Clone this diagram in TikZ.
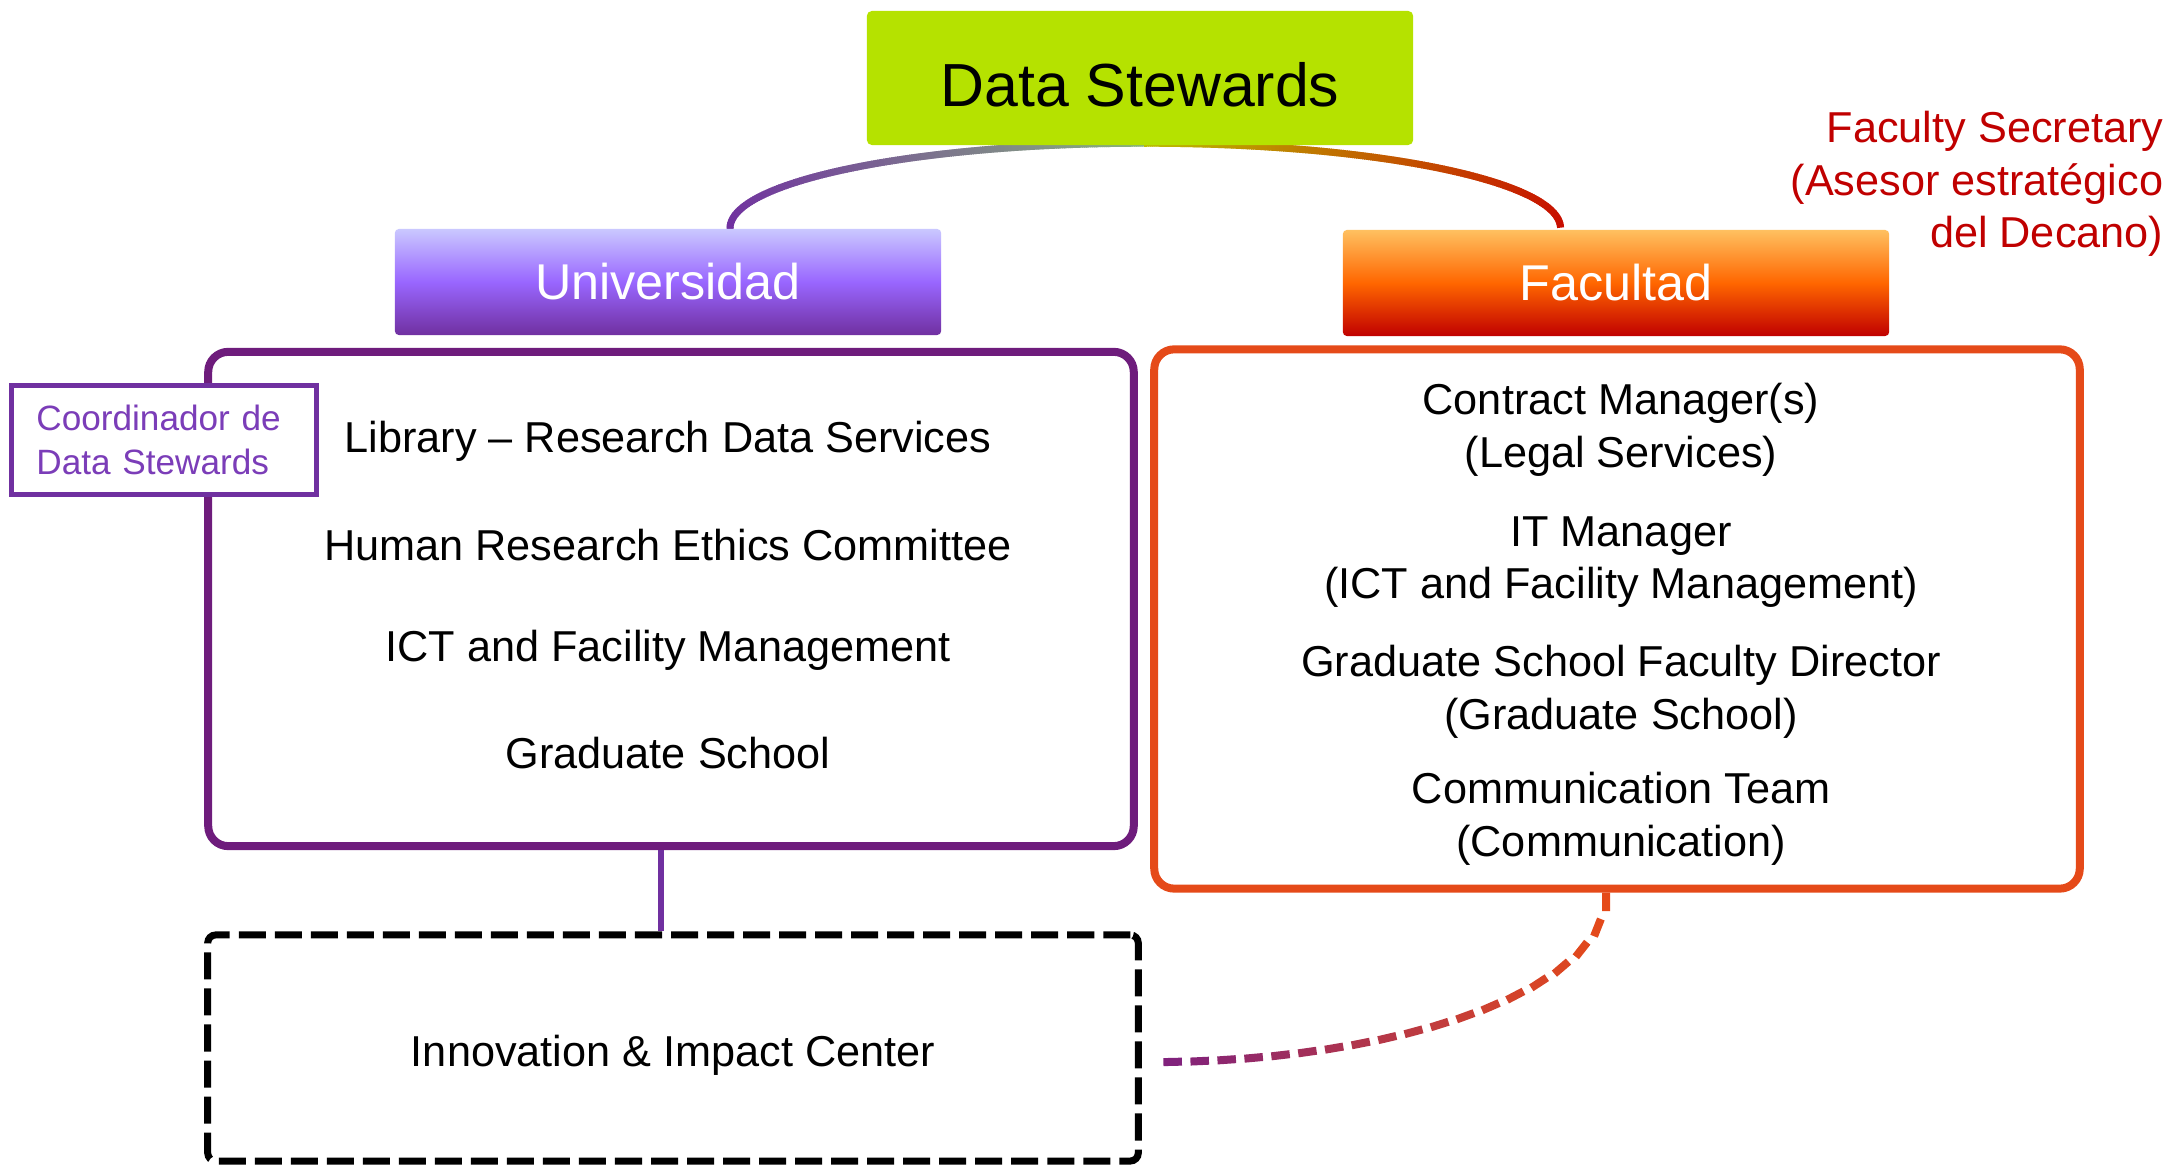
\documentclass[tikz,border=0pt]{standalone}
\usepackage{fontspec}
\setmainfont{Liberation Sans}
\usetikzlibrary{backgrounds,decorations.markings,calc}

\definecolor{dslime}{RGB}{181,226,0}
\definecolor{unitop}{RGB}{202,200,255}
\definecolor{unimid}{RGB}{153,102,255}
\definecolor{unibot}{RGB}{112,48,160}
\definecolor{factop}{RGB}{255,192,96}
\definecolor{facmid}{RGB}{255,102,0}
\definecolor{facbot}{RGB}{192,0,0}
\definecolor{univline}{RGB}{110,28,124}
\definecolor{facline}{RGB}{229,74,25}
\definecolor{coordline}{RGB}{112,48,160}
\definecolor{coordtext}{RGB}{123,61,184}
\definecolor{secred}{RGB}{192,0,0}
\definecolor{arcpurple}{RGB}{112,48,160}
\definecolor{arcgreen}{RGB}{136,180,124}
\definecolor{arcolive}{RGB}{186,188,0}
\definecolor{arcred}{RGB}{200,12,0}
\definecolor{dashpurple}{RGB}{122,31,130}

\newcommand{\txtsize}{\fontsize{12.3}{14.9}\selectfont}

\begin{document}
\begin{tikzpicture}
      [x=0.01cm, y=-0.01cm,
       headbox/.style={minimum width=5.46cm, minimum height=1.06cm, rounded corners=0.04cm,
         text=white, font=\fontsize{14.3}{17}\selectfont},
       groupbox/.style={draw, line width=0.08cm, rounded corners=0.2cm, minimum width=9.25cm},
       itemtext/.style={align=center, font=\txtsize},
       arcfade/.style args={#1 to #2}{decoration={markings,
         mark=between positions 0 and 1 step 0.02cm with {%
           \pgfmathtruncatemacro\pc{100*(\pgfkeysvalueof{/pgf/decoration/mark info/distance from start}/\pgfdecoratedpathlength)}%
           \draw[#2!\pc!#1, line width=0.07cm] (-0.015cm,0) -- (0.015cm,0);}}, decorate},
       dashfade/.style args={#1 to #2}{decoration={markings,
         mark=between positions 0 and 1 step 0.27cm with {%
           \pgfmathtruncatemacro\pc{100*(\pgfkeysvalueof{/pgf/decoration/mark info/distance from start}/\pgfdecoratedpathlength)^1.3}%
           \draw[#2!\pc!#1, line width=0.08cm] (0,0) -- (0.185cm,0);}}, decorate}]
      \useasboundingbox (0,0) rectangle (2169,1168);

      % top of the tree
      \node[fill=dslime, rounded corners=0.05cm, minimum width=5.46cm, minimum height=1.34cm,
        label={[yshift=-0.07cm, font=\fontsize{17.3}{20}\selectfont]center:Data Stewards}](ds) at (1140, 78) {};
      \node[headbox, top color=unitop, bottom color=unibot, middle color=unimid](uni) at (668, 282) {Universidad};
      \node[headbox, top color=factop, bottom color=facbot, middle color=facmid](fac) at (1616, 283) {Facultad};
      \node[align=right, text=secred, font=\txtsize, anchor=east, inner sep=0pt](sec) at (2164, 184)
        {Faculty Secretary\\(Asesor estratégico\\del Decano)};

      % university side
      \node[groupbox, draw=univline, minimum height=4.94cm](univbox) at (671, 599) {};
      \node[draw=coordline, line width=0.05cm, fill=white, minimum width=3.05cm, minimum height=1.09cm,
        text width=2.55cm, align=left, text=coordtext, font=\fontsize{10}{12.5}\selectfont](coord) at (164, 440)
        {Coordinador de\\Data Stewards};
      \node[itemtext](lib) at (668, 441) {Library – Research Data Services};
      \node[itemtext](hrec) at (668, 545) {Human Research Ethics Committee};
      \node[itemtext](ict) at (668, 650) {ICT and Facility Management};
      \node[itemtext](grad) at (668, 753) {Graduate School};

      % faculty side
      \node[groupbox, draw=facline, minimum height=5.39cm](facbox) at (1617, 619) {};
      \node[itemtext](cm) at (1621, 430) {Contract Manager(s)\\(Legal Services)};
      \node[itemtext](itm) at (1621, 562) {IT Manager\\(ICT and Facility Management)};
      \node[itemtext](gsd) at (1621, 692) {Graduate School Faculty Director\\(Graduate School)};
      \node[itemtext](comm) at (1621, 819) {Communication Team\\(Communication)};

      % innovation center
      \node[draw, line width=0.07cm, dash pattern=on 0.27cm off 0.09cm, rounded corners=0.08cm,
        minimum width=9.3cm, minimum height=2.26cm,
        label={[yshift=-0.07cm, font=\txtsize]center:Innovation \& Impact Center}](inn) at (673, 1048) {};

      \begin{scope}[on background layer]
      \coordinate(arcl) at ([xshift=0.62cm]uni.north);
      \coordinate(arctop) at ($(arcl)+(4.15cm,0.85cm)$);
      \path[arcfade=arcpurple to arcgreen](arcl) arc[start angle=180, end angle=90, x radius=4.15cm, y radius=0.85cm];
      \path[arcfade=arcolive to arcred](arctop) arc[start angle=90, end angle=0, x radius=4.15cm, y radius=0.85cm];
      \end{scope}

      \draw[coordline, line width=0.06cm]([xshift=-0.1cm]univbox.south) -- ([xshift=-0.1cm]univbox.south |- inn.north);
      \path[dashfade=facline to dashpurple]([xshift=-0.11cm]facbox.south)
        .. controls +(0,-0.98cm) and ($(inn.east)+(258,12)$) .. ($(inn.east)+(20,14)$);
  \end{tikzpicture}
\end{document}
